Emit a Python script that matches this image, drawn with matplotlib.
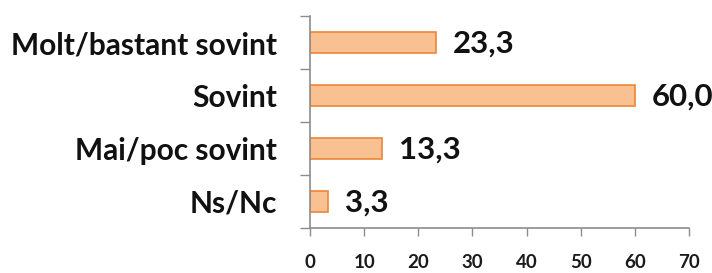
import matplotlib
matplotlib.use("Agg")
import matplotlib.pyplot as plt

categories = ["Molt/bastant sovint", "Sovint", "Mai/poc sovint", "Ns/Nc"]
values = [23.3, 60.0, 13.3, 3.3]
value_labels = ["23,3", "60,0", "13,3", "3,3"]
xticks = [0, 10, 20, 30, 40, 50, 60, 70]

plt.rcParams['font.family'] = ['Lato', 'DejaVu Sans']

fig = plt.figure(figsize=(7.12, 2.73), dpi=100)
ax = fig.add_axes([310/712, 1-228/273, (689-310)/712, (228-16)/273])

ypos = list(range(len(categories)))[::-1]
ax.barh(ypos, values, height=0.4, color="#F9C191", edgecolor="#EE8538", linewidth=1.2)
for y, v, lab in zip(ypos, values, value_labels):
    ax.annotate(lab, (v, y), xytext=(12, -1), textcoords="offset points",
                ha="left", va="center", fontsize=22.5, fontweight="bold", color="#111111")

ax.set_xlim(0, 70)
ax.set_ylim(-0.5, 3.5)
ax.set_xticks(xticks)
ax.set_xticklabels([str(t) for t in xticks], fontsize=13.5, fontweight="bold", color="#1a1a1a")
ax.set_yticks([y + 0.5 for y in range(-1, 4)])
ax.set_yticklabels([])
ax.set_yticks(ypos, minor=True)
ax.set_yticklabels(categories, minor=True, fontsize=21.5, fontweight="bold", color="#111111")
ax.tick_params(axis="y", which="minor", length=0, pad=24)
ax.tick_params(axis="y", which="major", length=7, color="#8C8C8C", width=1)
ax.tick_params(axis="x", length=6, color="#8C8C8C", width=1, pad=13)

for s in ["top", "right"]:
    ax.spines[s].set_visible(False)
for s in ["left", "bottom"]:
    ax.spines[s].set_color("#8C8C8C")
    ax.spines[s].set_linewidth(1.2)

fig.savefig("out.png", dpi=100)
